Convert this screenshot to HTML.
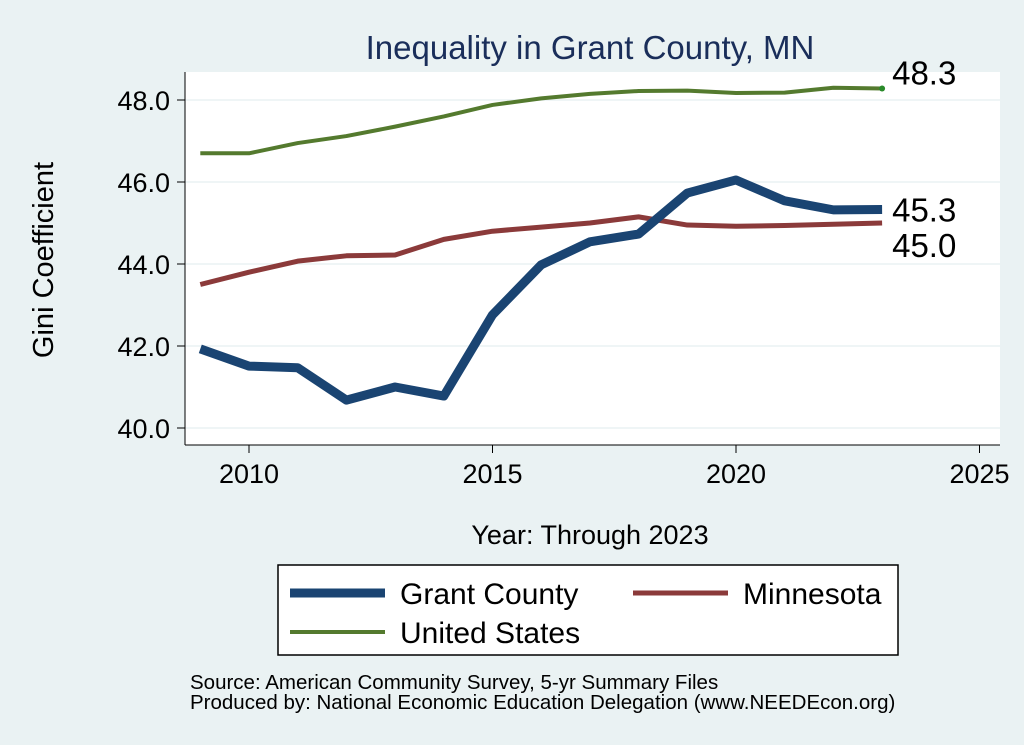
<!DOCTYPE html>
<html><head><meta charset="utf-8"><style>
body{margin:0;background:#eaf2f3;font-family:"Liberation Sans",sans-serif;}
svg{display:block}
</style></head><body>
<svg width="1024" height="745" viewBox="0 0 1024 745">
<rect x="0" y="0" width="1024" height="745" fill="#eaf2f3"/>
<text x="590" y="59" text-anchor="middle" font-size="33" fill="#1a2e5a">Inequality in Grant County, MN</text>
<rect x="185" y="72" width="815" height="373" fill="#fff"/>
<g id="grid"></g>
<g id="axes"></g>
<g id="series"></g>
<text transform="translate(53,260) rotate(-90)" text-anchor="middle" font-size="29" fill="#000">Gini Coefficient</text>
<text x="590" y="544" text-anchor="middle" font-size="27" fill="#000">Year: Through 2023</text>
<g>
<rect x="278" y="565" width="620" height="90" fill="#fff" stroke="#000" stroke-width="1.5"/>
<line x1="290" y1="593" x2="385" y2="593" stroke="#1a4472" stroke-width="9"/>
<text x="400" y="604" font-size="30">Grant County</text>
<line x1="633" y1="593" x2="728" y2="593" stroke="#8b3a3a" stroke-width="5"/>
<text x="743" y="604" font-size="30">Minnesota</text>
<line x1="290" y1="632" x2="385" y2="632" stroke="#547a2e" stroke-width="4"/>
<text x="400" y="643" font-size="30">United States</text>
</g>
<text x="190" y="689" font-size="20.5">Source: American Community Survey, 5-yr Summary Files</text>
<text x="190" y="709" font-size="20.5">Produced by: National Economic Education Delegation (www.NEEDEcon.org)</text>
</svg>
<script>
const years=[2009,2010,2011,2012,2013,2014,2015,2016,2017,2018,2019,2020,2021,2022,2023];
const grant=[41.93,41.51,41.47,40.68,41.0,40.78,42.76,43.98,44.54,44.73,45.73,46.05,45.54,45.32,45.33];
const minnesota=[43.5,43.8,44.07,44.2,44.22,44.6,44.8,44.9,45.0,45.15,44.95,44.92,44.94,44.97,45.0];
const us=[46.7,46.7,46.95,47.12,47.35,47.6,47.88,48.04,48.15,48.22,48.23,48.17,48.18,48.3,48.28];
const yTicks=[40,42,44,46,48];
const xTicks=[2010,2015,2020,2025];
const NS='http://www.w3.org/2000/svg';
const xs=y=>249+(y-2010)*48.7;
const ys=v=>428-(v-40)*41;
function mk(tag,attrs,parent){const e=document.createElementNS(NS,tag);for(const k in attrs)e.setAttribute(k,attrs[k]);document.getElementById(parent).appendChild(e);return e;}
yTicks.forEach(t=>{
 const g=mk('line',{x1:185,x2:1000,y1:ys(t),y2:ys(t),stroke:'#eaf2f3','stroke-width':1.5},'grid');
 
 
 const tk=mk('line',{x1:177,x2:185,y1:ys(t),y2:ys(t),stroke:'#000','stroke-width':1},'axes');
 
 
 const tx=mk('text',{x:170,y:ys(t)+10,'text-anchor':'end','font-size':27},'axes');
 tx.textContent=t.toFixed(1);
 
 
});
const ya=mk('line',{x1:185,x2:185,y1:72,y2:445,stroke:'#000','stroke-width':1},'axes');


const xa=mk('line',{x1:185,x2:1000,y1:445,y2:445,stroke:'#000','stroke-width':1},'axes');


xTicks.forEach(t=>{
 const tk=mk('line',{x1:xs(t),x2:xs(t),y1:445,y2:453,stroke:'#000','stroke-width':1},'axes');
 
 
 const tx=mk('text',{x:xs(t),y:483,'text-anchor':'middle','font-size':27},'axes');
 tx.textContent=t;
 
 
});
function line(vals,color,w,name){
 const p=mk('polyline',{points:vals.map((v,i)=>xs(years[i])+','+ys(v)).join(' '),fill:'none',stroke:color,'stroke-width':w,'stroke-linejoin':'round'},'series');
 
 
}
line(us,'#547a2e',4,'us-line');
line(minnesota,'#8b3a3a',5,'minnesota-line');
line(grant,'#1a4472',9,'grant-county-line');
const last=years.length-1;
const dot=mk('circle',{cx:xs(years[last]),cy:ys(us[last]),r:3,fill:'#2a8a2a'},'series');


[[us[last],-4,'us-end-label'],[grant[last],12,'grant-end-label'],[minnesota[last],34,'mn-end-label']].forEach(([v,dy,n])=>{
 const t=mk('text',{x:xs(years[last])+10,y:ys(v)+dy,'font-size':33},'series');
 t.textContent=v.toFixed(1);
 
 
});
</script>
</body></html>
